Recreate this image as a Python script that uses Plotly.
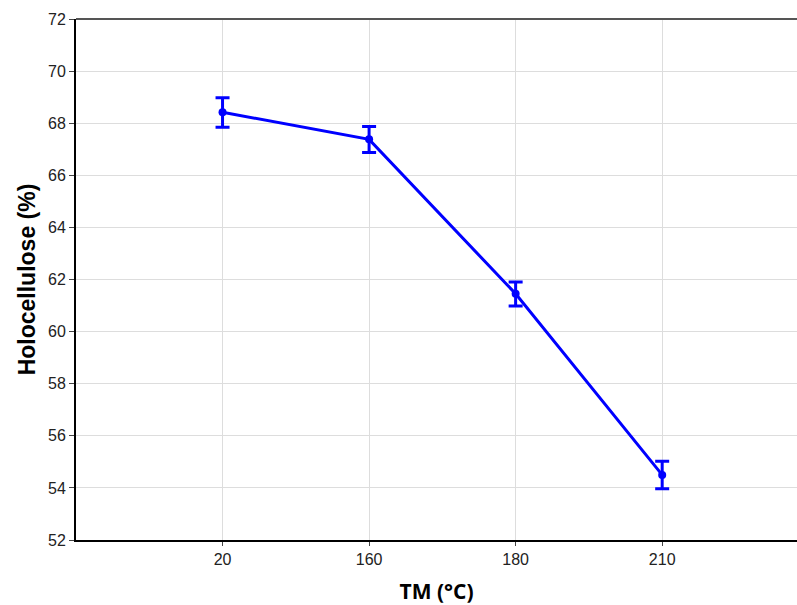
import plotly.graph_objects as go

categories = ["20", "160", "180", "210"]
holocellulose = [68.42, 67.38, 61.45, 54.50]
err_plus = [0.56, 0.49, 0.45, 0.52]
err_minus = [0.58, 0.50, 0.47, 0.53]
y_ticks = [52, 54, 56, 58, 60, 62, 64, 66, 68, 70, 72]

fig = go.Figure()
fig.add_trace(go.Scatter(
    x=list(range(len(categories))),
    y=holocellulose,
    mode="lines+markers",
    line=dict(color="#0000ff", width=3),
    marker=dict(color="#0000ff", size=8),
    error_y=dict(type="data", symmetric=False, array=err_plus, arrayminus=err_minus,
                 color="#0000ff", thickness=3, width=7),
    showlegend=False,
))

fig.add_shape(type="line", xref="paper", yref="paper", x0=0, x1=1, y0=1, y1=1,
              line=dict(color="#555555", width=2))

fig.update_layout(
    width=797, height=605,
    margin=dict(l=76, r=0, t=19, b=65),
    paper_bgcolor="white", plot_bgcolor="white",
    font=dict(family="Liberation Sans, Arial", size=16, color="#222222"),
    xaxis=dict(
        range=[-1, 3.92],
        tickmode="array", tickvals=list(range(len(categories))), ticktext=categories,
        showgrid=True, gridcolor="#dddddd", gridwidth=1,
        showline=True, linecolor="black", linewidth=2,
        ticks="outside", ticklen=4, tickcolor="#444444",
        zeroline=False,
        title=dict(text="<b>TM (°C)</b>", font=dict(family="Open Sans, Liberation Sans", size=21, color="black"), standoff=18),
    ),
    yaxis=dict(
        range=[52, 72],
        tickmode="array", tickvals=y_ticks,
        showgrid=True, gridcolor="#dddddd", gridwidth=1,
        showline=True, linecolor="black", linewidth=2,
        ticks="outside", ticklen=5, tickcolor="#444444",
        zeroline=False,
        title=dict(text="<b>Holocellulose (%)</b>", font=dict(family="Liberation Sans, Arial", size=23, color="black"), standoff=6),
    ),
)

fig.write_html("out.html", config={"displayModeBar": False},
               post_script="document.body.style.margin='0';")
